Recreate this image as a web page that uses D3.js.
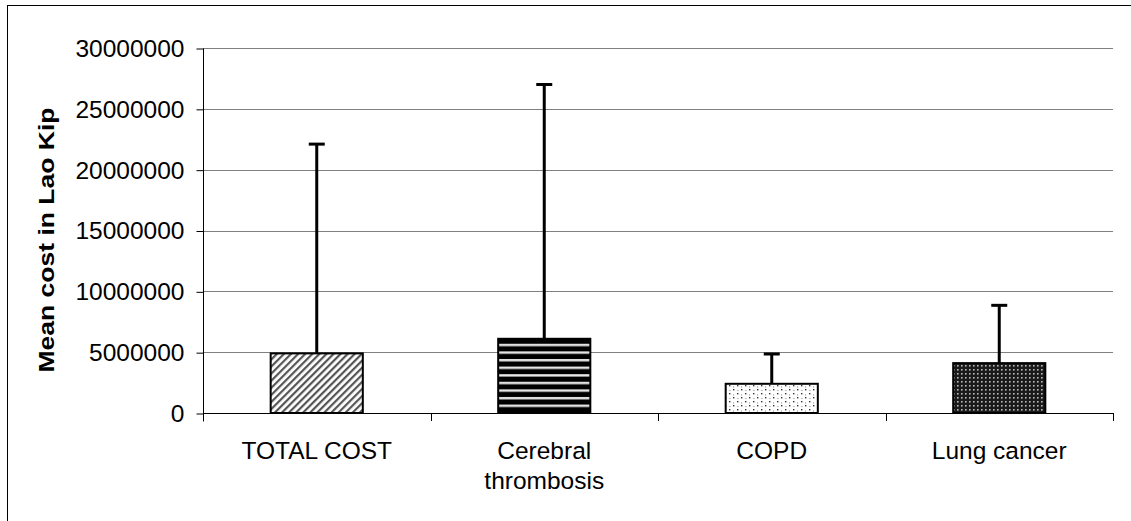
<!DOCTYPE html>
<html>
<head>
<meta charset="utf-8">
<script src="https://cdn.jsdelivr.net/npm/d3@7"></script>
<style>
  body { margin: 0; background: #fff; }
  svg { display: block; font-family: "Liberation Sans", Arial, sans-serif; }
</style>
</head>
<body>
<div id="chart"></div>
<script>
// data
var categories = ["TOTAL COST", "Cerebral thrombosis", "COPD", "Lung cancer"];
var labelLines = [["TOTAL COST"], ["Cerebral", "thrombosis"], ["COPD"], ["Lung cancer"]];
var meanCost = [4900000, 6100000, 2400000, 4100000];
var errorTop = [22100000, 27000000, 4850000, 8850000];
var yTicks = [0, 5000000, 10000000, 15000000, 20000000, 25000000, 30000000];
var patterns = ["diag", "hstripe", "dots", "dense"];

var W = 1131, H = 521;
var plot = {left: 203, right: 1113, top: 48, bottom: 413};

var svg = d3.select("#chart").append("svg")
  .attr("width", W)
  .attr("height", H);

// outer frame
svg.append("rect")
  .attr("x", 7.5).attr("y", 5.5)
  .attr("width", 1140).attr("height", 540)
  .attr("fill", "none").attr("stroke", "#000").attr("stroke-width", 1);

var defs = svg.append("defs");

// diagonal hatch
var p1 = defs.append("pattern").attr("id", "diag")
  .attr("patternUnits", "userSpaceOnUse").attr("width", 5).attr("height", 5)
  .attr("patternTransform", "rotate(45)");
p1.append("rect").attr("width", 5).attr("height", 5).attr("fill", "#fff");
p1.append("rect").attr("x", 0).attr("width", 2.2).attr("height", 5).attr("fill", "#555");

// horizontal stripes
var p2 = defs.append("pattern").attr("id", "hstripe")
  .attr("patternUnits", "userSpaceOnUse").attr("width", 8).attr("height", 7.6)
  .attr("y", 339);
p2.append("rect").attr("width", 8).attr("height", 7.6).attr("fill", "#000");
p2.append("rect").attr("y", 4.8).attr("width", 8).attr("height", 2.4).attr("fill", "#e8e8e8");

// sparse dots
var p3 = defs.append("pattern").attr("id", "dots")
  .attr("patternUnits", "userSpaceOnUse").attr("width", 8).attr("height", 8);
p3.append("rect").attr("width", 8).attr("height", 8).attr("fill", "#fff");
p3.append("rect").attr("x", 1).attr("y", 1).attr("width", 1.4).attr("height", 1.4).attr("fill", "#333");
p3.append("rect").attr("x", 5).attr("y", 5).attr("width", 1.4).attr("height", 1.4).attr("fill", "#333");
p3.append("rect").attr("x", 5).attr("y", 2.5).attr("width", 1).attr("height", 1).attr("fill", "#888");
p3.append("rect").attr("x", 1.5).attr("y", 6).attr("width", 1).attr("height", 1).attr("fill", "#888");

// dense dark with light dots
var p4 = defs.append("pattern").attr("id", "dense")
  .attr("patternUnits", "userSpaceOnUse").attr("width", 4).attr("height", 4);
p4.append("rect").attr("width", 4).attr("height", 4).attr("fill", "#1a1a1a");
p4.append("rect").attr("x", 1).attr("y", 1).attr("width", 1.6).attr("height", 1.6).attr("fill", "#bbb");

var y = d3.scaleLinear()
  .domain([0, 30000000])
  .range([plot.bottom, plot.top]);

var x = d3.scaleBand()
  .domain(categories)
  .range([plot.left, plot.right])
  .paddingInner(0.595)
  .paddingOuter(0.2975);

// gridlines
svg.append("g").selectAll("line")
  .data(yTicks.filter(function(d){ return d > 0; }))
  .enter().append("line")
  .attr("x1", plot.left).attr("x2", plot.right)
  .attr("y1", function(d){ return Math.round(y(d)) + 0.5; })
  .attr("y2", function(d){ return Math.round(y(d)) + 0.5; })
  .attr("stroke", "#808080").attr("stroke-width", 1);

// y axis
var yAxis = d3.axisLeft(y)
  .tickValues(yTicks)
  .tickSize(7)
  .tickPadding(12)
  .tickFormat(d3.format("d"));

var gy = svg.append("g")
  .attr("transform", "translate(" + (plot.left + 0.5) + ",0.5)")
  .call(yAxis);
gy.select(".domain").remove();
gy.append("line").attr("x1", 0).attr("x2", 0)
  .attr("y1", plot.top).attr("y2", plot.bottom + 8)
  .attr("stroke", "#000");
gy.selectAll("text")
  .attr("font-size", 24.5)
  .attr("fill", "#000")
  .attr("font-family", "Liberation Sans, Arial, sans-serif");
gy.selectAll(".tick line").attr("stroke", "#000");

// x axis: baseline and ticks at band boundaries
var step = x.step();
var bounds = d3.range(categories.length + 1).map(function(i){ return plot.left + i * step; });
svg.append("line")
  .attr("x1", plot.left).attr("x2", plot.right)
  .attr("y1", plot.bottom + 0.5).attr("y2", plot.bottom + 0.5)
  .attr("stroke", "#000");
svg.append("g").selectAll("line")
  .data(bounds)
  .enter().append("line")
  .attr("x1", function(d){ return Math.round(d) + 0.5; })
  .attr("x2", function(d){ return Math.round(d) + 0.5; })
  .attr("y1", plot.bottom).attr("y2", plot.bottom + 8)
  .attr("stroke", "#000");

// category labels
var lab = svg.append("g").selectAll("text")
  .data(categories)
  .enter().append("text")
  .attr("text-anchor", "middle")
  .attr("font-size", 24.5)
  .attr("fill", "#000")
  .attr("x", function(d){ return x(d) + x.bandwidth() / 2; })
  .attr("y", 459);
lab.each(function(d, i){
  var t = d3.select(this);
  labelLines[i].forEach(function(line, j){
    t.append("tspan")
      .attr("x", x(d) + x.bandwidth() / 2)
      .attr("dy", j === 0 ? 0 : 30)
      .text(line);
  });
});

// error bars (upper only)
var eb = svg.append("g");
categories.forEach(function(c, i){
  var cx = x(c) + x.bandwidth() / 2;
  eb.append("line")
    .attr("x1", cx).attr("x2", cx)
    .attr("y1", y(meanCost[i])).attr("y2", y(errorTop[i]))
    .attr("stroke", "#000").attr("stroke-width", 3);
  eb.append("line")
    .attr("x1", cx - 8).attr("x2", cx + 8)
    .attr("y1", y(errorTop[i])).attr("y2", y(errorTop[i]))
    .attr("stroke", "#000").attr("stroke-width", 3);
});

// bars
svg.append("g").selectAll("rect")
  .data(categories)
  .enter().append("rect")
  .attr("x", function(d){ return x(d); })
  .attr("width", x.bandwidth())
  .attr("y", function(d, i){ return y(meanCost[i]); })
  .attr("height", function(d, i){ return y(0) - y(meanCost[i]); })
  .attr("fill", function(d, i){ return "url(#" + patterns[i] + ")"; })
  .attr("stroke", "#000")
  .attr("stroke-width", 2);

// y axis title
svg.append("text")
  .attr("transform", "translate(54,240) rotate(-90)")
  .attr("text-anchor", "middle")
  .attr("font-size", 22)
  .attr("font-weight", "bold")
  .attr("fill", "#000")
  .attr("textLength", 265)
  .attr("lengthAdjust", "spacingAndGlyphs")
  .text("Mean cost in Lao Kip");
</script>
</body>
</html>
